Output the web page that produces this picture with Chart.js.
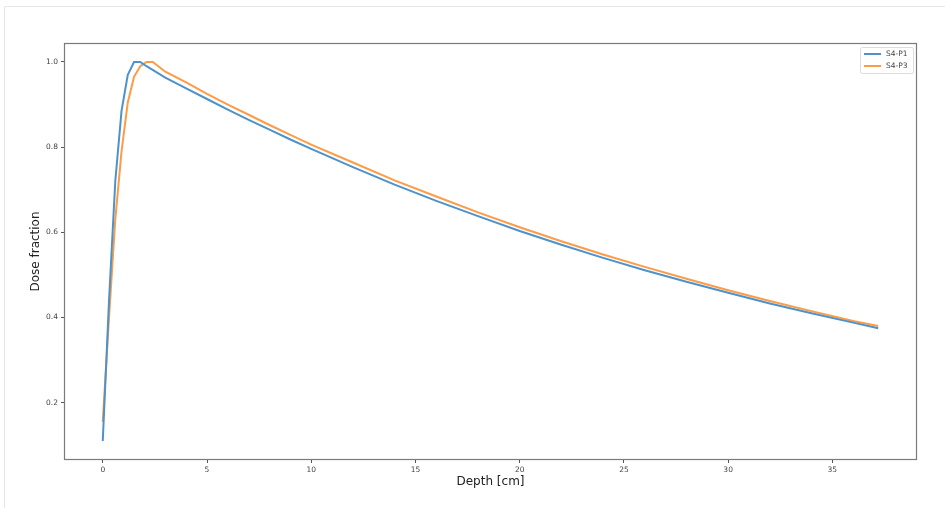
<!DOCTYPE html>
<html>
<head>
<meta charset="utf-8">
<title>Depth dose</title>
<script src="https://cdn.jsdelivr.net/npm/chart.js@4.4.0/dist/chart.umd.min.js"></script>
<style>
  html, body { margin: 0; padding: 0; background: #fff; }
  #wrap { position: relative; width: 945px; height: 508px; }
</style>
</head>
<body>
<div id="wrap"><canvas id="doseChart" width="945" height="508"></canvas></div>
<script>
    // Depth dose curves
    const depthP1 = [0, 0.3, 0.6, 0.9, 1.2, 1.5, 1.8, 2.1, 3, 4, 5, 6, 7, 8, 9, 10, 12, 14, 16, 18, 20, 22, 24, 26, 28, 30, 32, 34, 36, 37.2];
    const doseP1  = [0.11, 0.44, 0.72, 0.885, 0.97, 1.0, 1.0, 0.99, 0.963, 0.938, 0.913, 0.888, 0.864, 0.841, 0.818, 0.796, 0.753, 0.712, 0.674, 0.638, 0.603, 0.571, 0.540, 0.511, 0.484, 0.458, 0.433, 0.410, 0.388, 0.375];

    const depthP3 = [0, 0.3, 0.6, 0.9, 1.2, 1.5, 1.8, 2.1, 2.4, 3, 4, 5, 6, 7, 8, 9, 10, 12, 14, 16, 18, 20, 22, 24, 26, 28, 30, 32, 34, 36, 37.2];
    const doseP3  = [0.155, 0.40, 0.63, 0.79, 0.905, 0.965, 0.99, 1.0, 1.0, 0.977, 0.952, 0.925, 0.90, 0.876, 0.852, 0.829, 0.806, 0.764, 0.722, 0.684, 0.647, 0.612, 0.579, 0.548, 0.519, 0.491, 0.464, 0.439, 0.415, 0.392, 0.380];

    const seriesLabels = ['S4-P1', 'S4-P3'];
    const xTicks = [0, 5, 10, 15, 20, 25, 30, 35];
    const yTicks = [0.2, 0.4, 0.6, 0.8, 1.0];

    const blue = '#4d92ca';
    const orange = '#fd9b47';

    function toPoints(xs, ys) {
        return xs.map((x, i) => ({ x: x, y: ys[i] }));
    }

    // page frame, axes box and legend (matplotlib look)
    const framePlugin = {
        id: 'frame',
        beforeDraw(chart) {
            const ctx = chart.ctx;
            ctx.save();
            ctx.fillStyle = '#fff';
            ctx.fillRect(0, 0, chart.width, chart.height);
            ctx.strokeStyle = '#e6e6e6';
            ctx.lineWidth = 1;
            ctx.beginPath();
            ctx.moveTo(4.5, chart.height);
            ctx.lineTo(4.5, 6.5);
            ctx.lineTo(chart.width, 6.5);
            ctx.stroke();
            ctx.restore();
        },
        afterDraw(chart) {
            const ctx = chart.ctx;
            const a = chart.chartArea;
            ctx.save();
            ctx.strokeStyle = '#7a7a7a';
            ctx.lineWidth = 1.2;
            ctx.strokeRect(a.left + 0.5, a.top + 0.5, a.right - a.left - 1, a.bottom - a.top - 1);

            // legend box
            const bx = a.right - 57, by = a.top + 4, bw = 53, bh = 26;
            ctx.fillStyle = 'rgba(255,255,255,0.85)';
            ctx.strokeStyle = '#dcdcdc';
            ctx.lineWidth = 1;
            ctx.beginPath();
            ctx.roundRect(bx + 0.5, by + 0.5, bw, bh, 2);
            ctx.fill();
            ctx.stroke();

            chart.data.datasets.forEach((ds, i) => {
                const y = by + 7 + i * 12;
                ctx.strokeStyle = ds.borderColor;
                ctx.lineWidth = 2;
                ctx.beginPath();
                ctx.moveTo(bx + 4, y);
                ctx.lineTo(bx + 21, y);
                ctx.stroke();
                ctx.fillStyle = '#444';
                ctx.font = '7.5px "DejaVu Sans"';
                ctx.textBaseline = 'middle';
                ctx.textAlign = 'left';
                ctx.fillText(ds.label, bx + 26, y);
            });
            ctx.restore();
        }
    };

    const ctx = document.getElementById('doseChart').getContext('2d');

    const doseChart = new Chart(ctx, {
        type: 'line',
        data: {
            datasets: [{
                label: seriesLabels[0],
                data: toPoints(depthP1, doseP1),
                borderColor: blue,
                backgroundColor: blue,
                borderWidth: 2,
                pointRadius: 0,
                tension: 0,
                fill: false
            }, {
                label: seriesLabels[1],
                data: toPoints(depthP3, doseP3),
                borderColor: orange,
                backgroundColor: orange,
                borderWidth: 2,
                pointRadius: 0,
                tension: 0,
                fill: false
            }]
        },
        options: {
            responsive: false,
            animation: false,
            layout: {
                padding: { top: 43, right: 28, bottom: 0, left: 0 }
            },
            plugins: {
                legend: { display: false },
                tooltip: { enabled: false }
            },
            scales: {
                x: {
                    type: 'linear',
                    min: -1.86,
                    max: 39.06,
                    afterBuildTicks: function(scale) {
                        scale.ticks = xTicks.map(v => ({ value: v }));
                    },
                    afterFit: function(scale) {
                        scale.height = 48;
                    },
                    border: { display: false },
                    grid: {
                        drawOnChartArea: false,
                        drawTicks: true,
                        tickLength: 3,
                        tickColor: '#555'
                    },
                    ticks: {
                        padding: 3,
                        color: '#444',
                        font: { family: 'DejaVu Sans', size: 7.5 },
                        maxRotation: 0
                    },
                    title: {
                        display: true,
                        text: 'Depth [cm]',
                        color: '#222',
                        font: { family: 'DejaVu Sans', size: 12 },
                        padding: { top: 0, bottom: 19 }
                    }
                },
                y: {
                    type: 'linear',
                    min: 0.0655,
                    max: 1.0445,
                    afterBuildTicks: function(scale) {
                        scale.ticks = yTicks.map(v => ({ value: v }));
                    },
                    afterFit: function(scale) {
                        scale.width = 64;
                    },
                    border: { display: false },
                    grid: {
                        drawOnChartArea: false,
                        drawTicks: true,
                        tickLength: 3,
                        tickColor: '#555'
                    },
                    ticks: {
                        padding: 3,
                        color: '#444',
                        font: { family: 'DejaVu Sans', size: 7.5 },
                        callback: function(value) {
                            return value.toFixed(1);
                        }
                    },
                    title: {
                        display: true,
                        text: 'Dose fraction',
                        color: '#222',
                        font: { family: 'DejaVu Sans', size: 12 },
                        padding: { top: 29, bottom: 0 }
                    }
                }
            }
        },
        plugins: [framePlugin]
    });
</script>
</body>
</html>
